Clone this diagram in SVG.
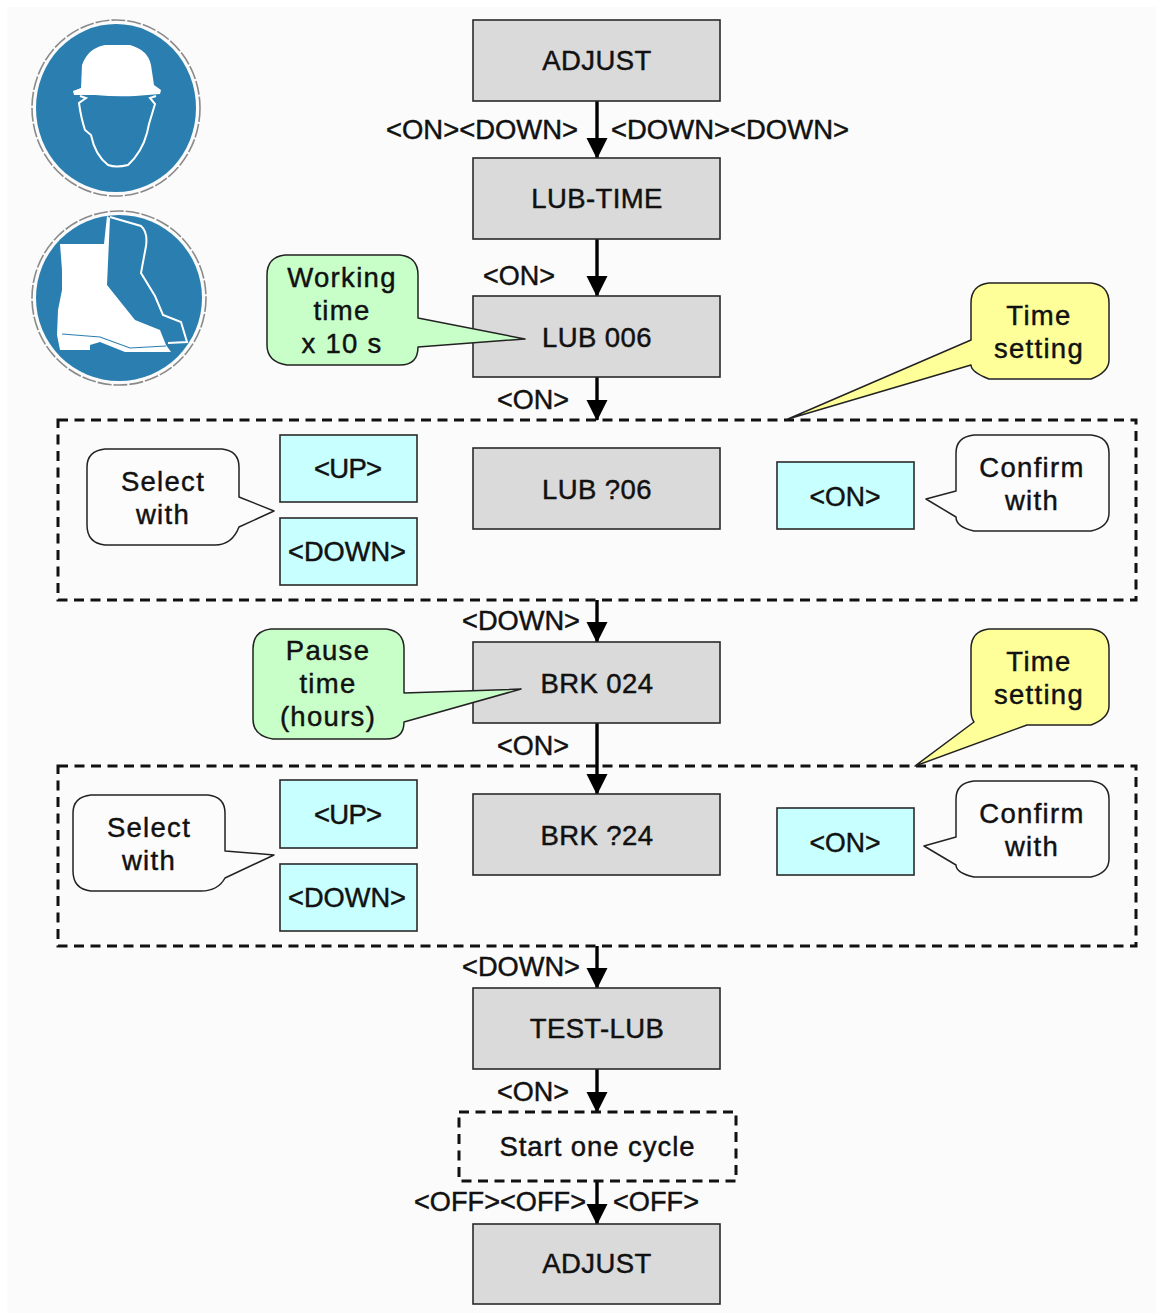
<svg xmlns="http://www.w3.org/2000/svg" width="1156" height="1313" viewBox="0 0 1156 1313">
<style>
text{font-family:"Liberation Sans",Arial,sans-serif;font-size:27.5px;fill:#111;text-anchor:middle;stroke:#111;stroke-width:.45px}
.lab{letter-spacing:1.3px}
.name{letter-spacing:.4px}
.box{fill:#dadada;stroke:#2a2a2a;stroke-width:1.6}
.key{fill:#c8ffff;stroke:#2a2a2a;stroke-width:1.6}
.dash{fill:none;stroke:#111;stroke-width:3;stroke-dasharray:10 6.5}
.co{stroke:#222;stroke-width:1.5;stroke-linejoin:round}
.g{fill:#c8ffc8}.y{fill:#ffff99}.w{fill:#fcfcfc}
.con{fill:none;stroke:#000;stroke-width:3.4}
.ic{fill:#fff;stroke:none}
.icl{fill:none;stroke:#fff;stroke-width:2}
.disk{fill:#2a7fb0}
.ring{fill:none;stroke:#8a8a8a;stroke-width:1.6;stroke-dasharray:14 2}
</style>
<defs>
<marker id="ah" markerUnits="userSpaceOnUse" markerWidth="22" markerHeight="22" refX="20" refY="10.5" orient="auto"><path d="M0 0L21 10.5L0 21Z" fill="#000"/></marker>
</defs>
<rect x="7" y="7" width="1149" height="1306" fill="#fbfbfb"/>

<g id="icon-helmet">
<ellipse class="disk" cx="116" cy="108" rx="80" ry="84"/>
<ellipse class="ring" cx="116" cy="108" rx="84" ry="88"/>
<path class="ic" d="M73 91L81 88L82 65Q88 48 105 45H130Q148 50 151 65L154 85L161 90L160 94L135 96Q116 97 95 95L74 95Z"/>
<path class="icl" d="M80 96L86 98L79 103Q81 118 85 130L91 135Q95 155 108 165Q116 168 128 165Q142 152 147 133L149 124L155 104L150 98L156 96"/>
</g>
<g id="icon-boot">
<circle class="disk" cx="119" cy="298" r="83"/>
<circle class="ring" cx="119" cy="298" r="87"/>
<path class="ic" d="M60 244H104L107 216L110 218L107 285L135 320L160 330L166 345L171 352H125L100 342L90 345V350H60L57 335L58 310L62 290L62 270Z"/>
<path class="icl" d="M110 217L141 226Q148 232 146 246L141 273L155 296L163 315L181 322L187 342L168 343"/>
<path d="M62 334L100 337L130 348L166 346" fill="none" stroke="#2a7fb0" stroke-width="1.2"/>
</g>

<g id="connectors">
<path class="con" marker-end="url(#ah)" d="M597 101V158"/>
<path class="con" marker-end="url(#ah)" d="M597 239V296"/>
<path class="con" marker-end="url(#ah)" d="M597 377V420"/>
<path class="con" marker-end="url(#ah)" d="M597 600V642"/>
<path class="con" marker-end="url(#ah)" d="M597 723V794"/>
<path class="con" marker-end="url(#ah)" d="M597 946V988"/>
<path class="con" marker-end="url(#ah)" d="M597 1069V1112"/>
<path class="con" marker-end="url(#ah)" d="M597 1181V1224"/>
</g>

<g id="group-lub"><rect class="dash" x="58" y="420" width="1078" height="180"/></g>
<g id="group-brk"><rect class="dash" x="58" y="766" width="1078" height="180"/></g>

<g id="adjust-top"><rect class="box" x="473" y="20" width="247" height="81"/><text class="name" x="597" y="70">ADJUST</text></g>
<g id="lub-time"><rect class="box" x="473" y="158" width="247" height="81"/><text class="name" x="597" y="208">LUB-TIME</text></g>
<g id="lub-006"><rect class="box" x="473" y="296" width="247" height="81"/><text class="name" x="597" y="347">LUB 006</text></g>
<g id="lub-q06"><rect class="box" x="473" y="448" width="247" height="81"/><text class="name" x="597" y="499">LUB ?06</text></g>
<g id="brk-024"><rect class="box" x="473" y="642" width="247" height="81"/><text class="name" x="597" y="693">BRK 024</text></g>
<g id="brk-q24"><rect class="box" x="473" y="794" width="247" height="81"/><text class="name" x="597" y="845">BRK ?24</text></g>
<g id="test-lub"><rect class="box" x="473" y="988" width="247" height="81"/><text class="name" x="597" y="1038">TEST-LUB</text></g>
<g id="start-cycle"><rect class="dash" x="459" y="1112" width="277" height="69"/><text x="597" y="1156" textLength="195">Start one cycle</text></g>
<g id="adjust-bottom"><rect class="box" x="473" y="1224" width="247" height="80"/><text class="name" x="597" y="1273">ADJUST</text></g>

<g id="key-up-1"><rect class="key" x="280" y="435" width="137" height="67"/><text x="348" y="478" textLength="68">&lt;UP&gt;</text></g>
<g id="key-down-1"><rect class="key" x="280" y="518" width="137" height="67"/><text x="347" y="561" textLength="118" lengthAdjust="spacingAndGlyphs">&lt;DOWN&gt;</text></g>
<g id="key-on-1"><rect class="key" x="777" y="462" width="137" height="67"/><text x="845" y="506" textLength="71" lengthAdjust="spacingAndGlyphs">&lt;ON&gt;</text></g>
<g id="key-up-2"><rect class="key" x="280" y="780" width="137" height="68"/><text x="348" y="824" textLength="68">&lt;UP&gt;</text></g>
<g id="key-down-2"><rect class="key" x="280" y="864" width="137" height="67"/><text x="347" y="907" textLength="118" lengthAdjust="spacingAndGlyphs">&lt;DOWN&gt;</text></g>
<g id="key-on-2"><rect class="key" x="777" y="808" width="137" height="67"/><text x="845" y="852" textLength="71" lengthAdjust="spacingAndGlyphs">&lt;ON&gt;</text></g>

<g id="note-working"><path class="co g" d="M285 255H400Q418 257 418 275V318L525 339L418 347Q418 365 400 365H287Q267 362 267 345V275Q267 257 285 255Z"/><text class="lab" x="342" y="287">Working</text><text class="lab" x="342" y="320">time</text><text class="lab" x="342" y="353">x 10 s</text></g>
<g id="note-time-1"><path class="co y" d="M989 283H1091Q1109 285 1109 303V360Q1109 372 1091 379H989Q971 372 971 365L788 419L971 340V303Q971 285 989 283Z"/><text class="lab" x="1039" y="325">Time</text><text class="lab" x="1039" y="358">setting</text></g>
<g id="note-select-1"><path class="co w" d="M105 449H222Q239 451 239 467V497L274 511L239 527Q232 545 215 545H105Q87 543 87 525V467Q87 451 105 449Z"/><text class="lab" x="163" y="491">Select</text><text class="lab" x="163" y="524">with</text></g>
<g id="note-confirm-1"><path class="co w" d="M974 435H1091Q1109 437 1109 453V513Q1109 527 1091 531H974Q956 527 956 517L926 499L956 491V453Q956 437 974 435Z"/><text class="lab" x="1032" y="477">Confirm</text><text class="lab" x="1032" y="510">with</text></g>
<g id="note-pause"><path class="co g" d="M271 629H386Q404 631 404 649V693L521 689L404 722Q404 739 386 739H273Q253 736 253 719V649Q253 631 271 629Z"/><text class="lab" x="328" y="660">Pause</text><text class="lab" x="328" y="693">time</text><text class="lab" x="328" y="726">(hours)</text></g>
<g id="note-time-2"><path class="co y" d="M989 629H1091Q1109 631 1109 649V706Q1109 718 1091 725H1027L915 766L974 722Q971 718 971 711V649Q971 631 989 629Z"/><text class="lab" x="1039" y="671">Time</text><text class="lab" x="1039" y="704">setting</text></g>
<g id="note-select-2"><path class="co w" d="M91 795H208Q225 797 225 813V851L274 855L225 878Q218 891 201 891H91Q73 889 73 871V813Q73 797 91 795Z"/><text class="lab" x="149" y="837">Select</text><text class="lab" x="149" y="870">with</text></g>
<g id="note-confirm-2"><path class="co w" d="M974 781H1091Q1109 783 1109 799V859Q1109 873 1091 877H974Q956 873 956 865L924 846L956 837V799Q956 783 974 781Z"/><text class="lab" x="1032" y="823">Confirm</text><text class="lab" x="1032" y="856">with</text></g>

<g id="connector-labels">
<text x="482" y="139" textLength="192" lengthAdjust="spacingAndGlyphs">&lt;ON&gt;&lt;DOWN&gt;</text>
<text x="730" y="139" textLength="238" lengthAdjust="spacingAndGlyphs">&lt;DOWN&gt;&lt;DOWN&gt;</text>
<text x="519" y="285" textLength="72" lengthAdjust="spacingAndGlyphs">&lt;ON&gt;</text>
<text x="533" y="409" textLength="72" lengthAdjust="spacingAndGlyphs">&lt;ON&gt;</text>
<text x="521" y="630" textLength="118" lengthAdjust="spacingAndGlyphs">&lt;DOWN&gt;</text>
<text x="533" y="755" textLength="72" lengthAdjust="spacingAndGlyphs">&lt;ON&gt;</text>
<text x="521" y="976" textLength="118" lengthAdjust="spacingAndGlyphs">&lt;DOWN&gt;</text>
<text x="533" y="1101" textLength="72" lengthAdjust="spacingAndGlyphs">&lt;ON&gt;</text>
<text x="500" y="1211" textLength="172" lengthAdjust="spacingAndGlyphs">&lt;OFF&gt;&lt;OFF&gt;</text>
<text x="656" y="1211" textLength="86" lengthAdjust="spacingAndGlyphs">&lt;OFF&gt;</text>
</g>
</svg>
